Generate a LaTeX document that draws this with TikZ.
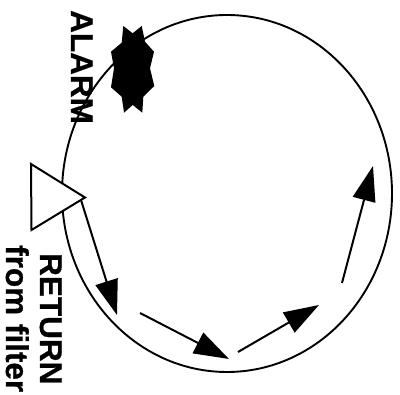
\documentclass[tikz,border=0pt]{standalone}
\usepackage{fontspec}
\setmainfont{Liberation Sans}[BoldFeatures={FakeBold=0.6}]
\usetikzlibrary{arrows.meta}
\tikzset{
  loopline/.style={draw=black,line width=1.9pt},
  flow/.style={draw=black,line width=2pt,-{Triangle[length=35pt,width=23pt]}},
  vlabel/.style={rotate=-90,anchor=base west,inner sep=0pt,font=\bfseries\fontsize{31.5}{31.5}\selectfont},
}
\begin{document}
\begin{tikzpicture}[x=1pt,y=-1pt]
\useasboundingbox (0,0) rectangle (400,395);
\draw[loopline] (227,193.5) ellipse[x radius=165,y radius=178.5];
\fill[black] (123.3,26) -- (132.7,33.3) -- (141.7,26) -- (145,41.7) -- (154,51.7) -- (150,68.3) -- (154.3,86) -- (143.3,96.7) -- (142.3,112.7) -- (132.7,105) -- (124,112.7) -- (121.7,96.7) -- (111,87.3) -- (114,68.3) -- (111,51.7) -- (121.7,42.7) -- cycle;
\draw[fill=white,line width=2pt,line join=miter] (31,164) -- (85,197.5) -- (31.5,230) -- cycle;
\coordinate (a1s) at (81,200); \coordinate (a1e) at (117,315);
\coordinate (a2s) at (140,313); \coordinate (a2e) at (229,359);
\coordinate (a3s) at (238,352); \coordinate (a3e) at (319,305);
\coordinate (a4s) at (342,283); \coordinate (a4e) at (373,166);
\draw[flow] (a1s) -- (a1e);
\draw[flow] (a2s) -- (a2e);
\draw[flow] (a3s) -- (a3e);
\draw[flow] (a4s) -- (a4e);
\node[vlabel] (alarm) at (71,10) {ALARM};
\node[vlabel] (ret) at (40,253) {RETURN};
\node[vlabel] (filt) at (6,245) {from filter};
\end{tikzpicture}
\end{document}
